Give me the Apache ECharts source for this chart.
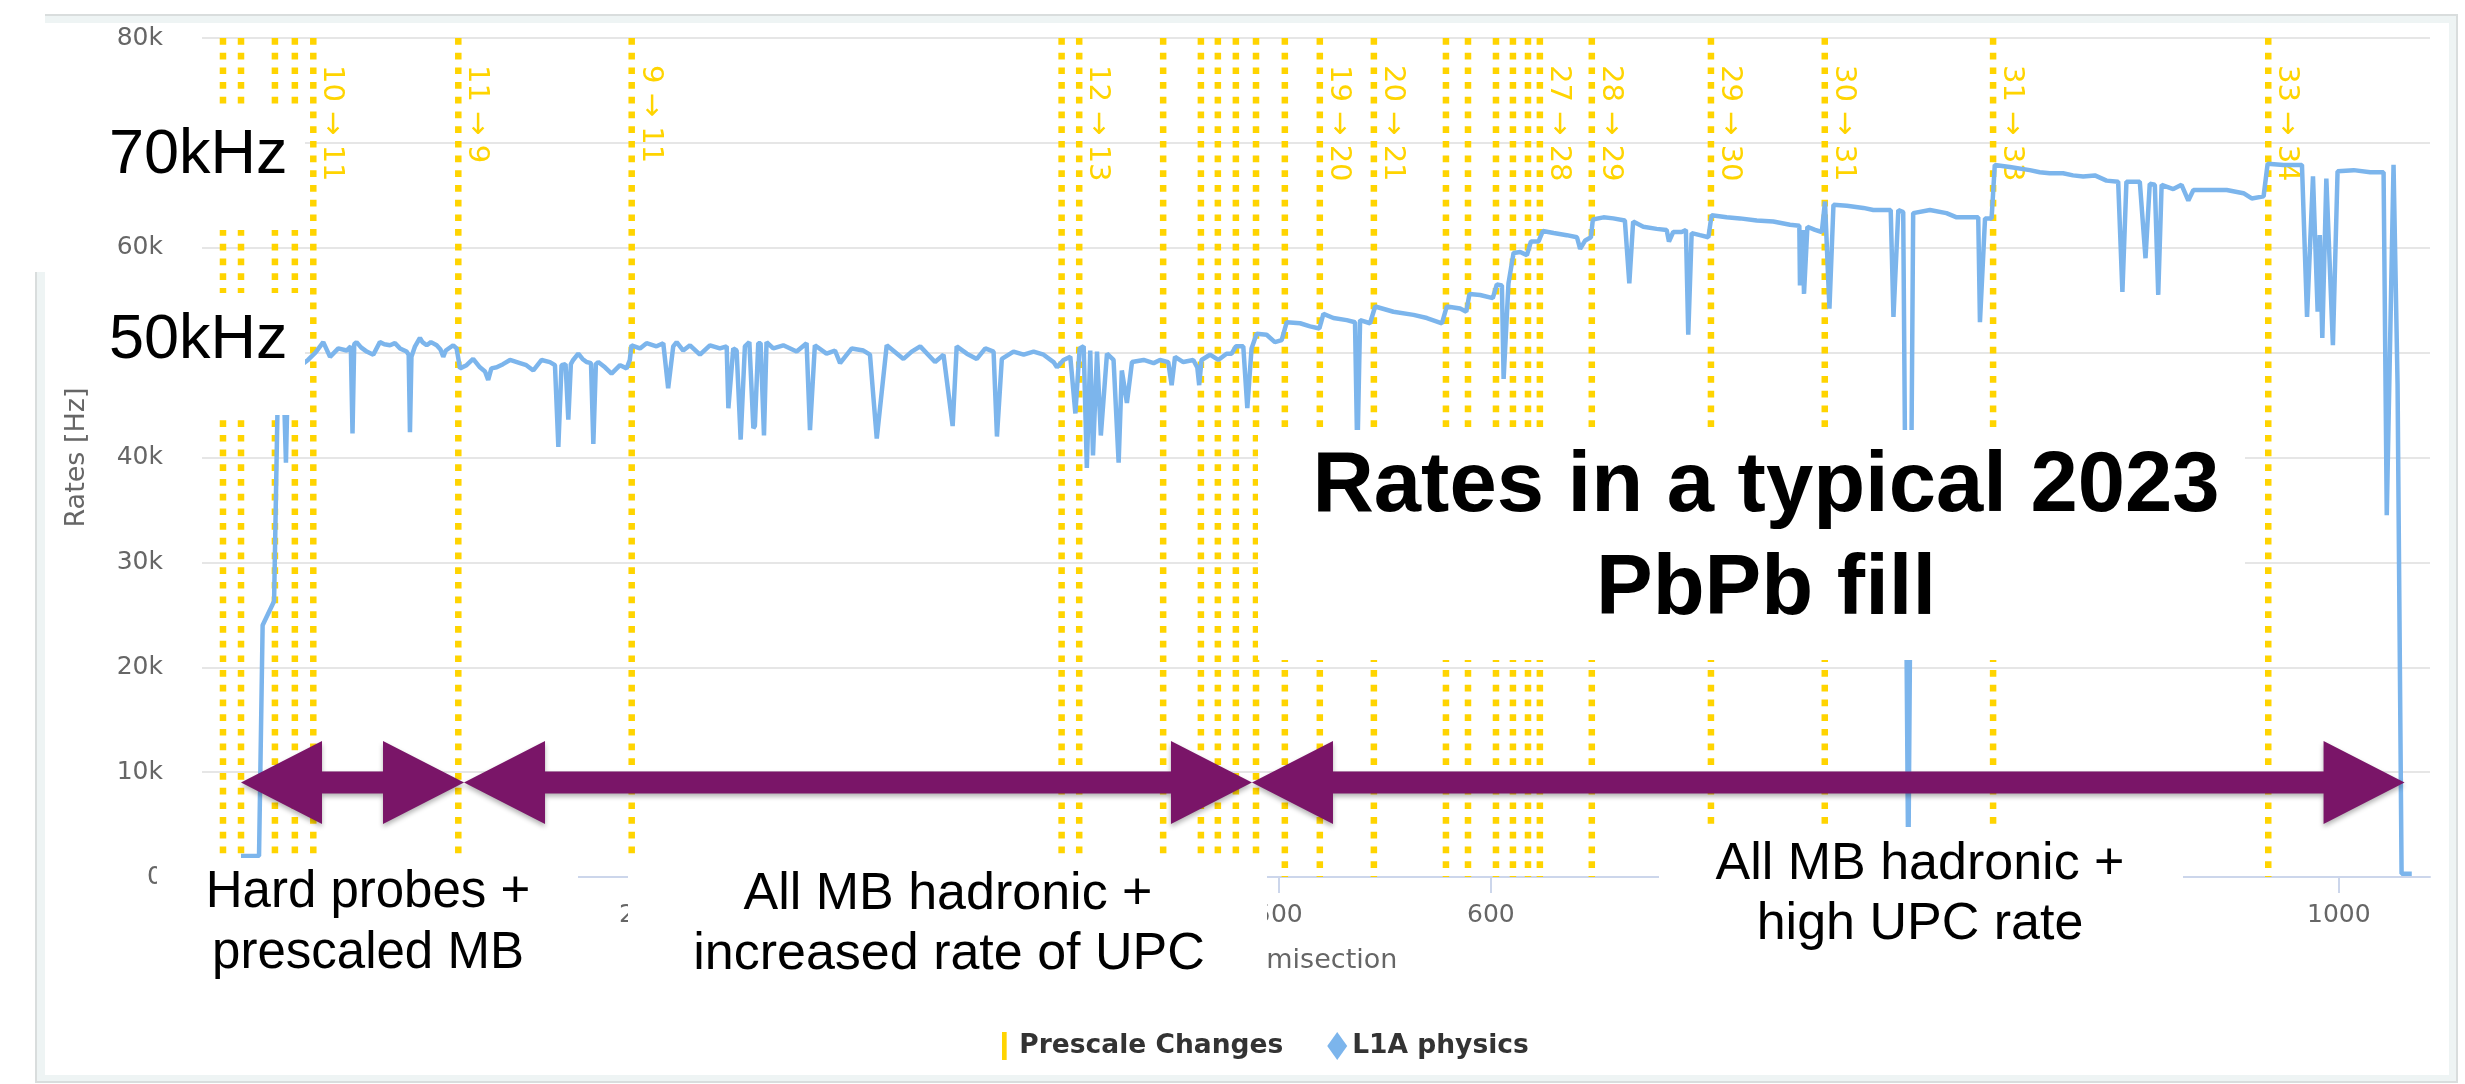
<!DOCTYPE html>
<html>
<head>
<meta charset="utf-8">
<script src="https://cdn.jsdelivr.net/npm/echarts@6/dist/echarts.min.js"></script>
<style>
  html, body { margin: 0; padding: 0; background: #ffffff; }
  #chart { width: 2465px; height: 1084px; }
</style>
</head>
<body>
<div id="chart"></div>
<script>
// Lumisection of each L1A sample
const lumi = [
  10.4, 18.9, 20.6, 26.0, 27.6, 29.0, 30.2, 31.6, 32.6, 36.0, 40.0,
  42.0, 45.5, 49.2, 52.4, 56.3, 60.2, 62.2, 63.0, 63.8, 64.9, 67.0, 69.7, 72.8, 75.9,
  78.0, 80.7, 83.0, 85.4, 88.5, 89.5, 90.1, 90.8, 92.5, 94.8, 96.0, 98.0, 100.0, 102.7,
  104.5, 105.8, 107.0, 110.5, 112.1,
  113.7, 116.8, 119.9, 123.1, 125.5, 127.0, 128.5, 131.0, 134.0, 137.3, 142.0, 145.0,
  148.3, 152.2, 156.1, 158.5, 160.1, 161.6, 163.5, 164.8, 166.0, 167.1, 169.5, 171.5,
  173.4, 175.5, 176.6, 177.8, 178.9, 182.1, 185.2, 189.2, 192.3, 193.8,
  194.6, 198.6, 201.7, 206.4, 209.6, 211.9, 214.3, 215.9, 219.0, 222.2, 226.9, 231.6,
  236.3, 239.5, 240.3, 242.6, 244.2, 246.1, 248.1, 250.2, 252.1, 252.8, 254.4, 255.5,
  257.1, 258.3, 261.5, 266.2, 272.5, 277.2, 278.8, 281.1, 286.6, 290.6, 293.0, 298.5,
  304.0, 307.1, 310.3, 315.0, 322.9, 326.8, 330.8, 337.8, 341.8, 346.1, 348.0, 352.8,
  357.5, 361.5, 365.4, 367.0, 369.3, 374.8, 379.6, 384.3, 389.0, 393.7, 395.3, 398.4,
  401.6, 404.0, 406.0, 407.9, 409.4, 411.0, 412.3, 414.2, 416.0, 418.9, 422.0, 424.4,
  425.9, 428.3, 430.7, 436.2, 440.9,
  443.9, 447.8, 449.4, 451.0, 454.9, 459.6, 461.5, 462.4, 463.5, 467.5, 471.4, 475.3,
  477.7, 479.7, 483.2, 485.1, 487.1, 489.5, 494.2, 498.1, 501.3, 503.7, 510.0, 514.7,
  519.1, 521.0, 525.7, 532.0, 535.9, 537.0, 538.3, 543.0, 545.4, 554.0, 563.5, 569.8,
  576.9, 579.2, 585.5, 588.4, 589.9, 594.9, 600.9, 602.8, 605.2, 606.0, 608.3, 610.7,
  613.8, 617.0, 618.9, 622.5, 624.5, 629.6, 635.8, 640.6, 642.1, 644.5, 647.2, 648.1,
  653.1, 657.7, 663.2, 665.3, 667.1, 671.9, 678.2, 682.9, 684.0, 686.0, 690.0, 692.0,
  693.1, 694.7, 698.6, 702.6, 704.1, 711.2, 717.5, 725.4, 733.2, 741.1, 745.5, 745.8,
  747.1, 747.7, 749.3, 752.9, 756.1, 757.6, 759.7, 761.6, 767.9, 775.7, 780.4, 785.1,
  788.6, 789.9, 792.2, 794.5, 796.9, 799.2, 807.1, 814.9, 819.7, 826.0, 829.9, 830.7,
  833.1, 836.2, 837.7, 844.8, 854.2, 858.9, 863.6, 869.9, 874.6, 879.4, 884.9, 890.4,
  895.9, 897.9, 899.8, 906.1, 908.8, 910.8, 913.2, 914.8, 916.4, 921.9, 925.8, 929.0,
  931.4, 939.2, 947.1, 955.0, 958.9, 964.5, 966.4, 973.9, 982.6, 985.0, 987.8, 990.0,
  991.0, 992.2, 994.1, 997.2, 999.4, 1007.0, 1014.8, 1021.1, 1022.6, 1025.8, 1027.7,
  1029.6, 1034.4
];

// L1A physics rate [Hz] at each of the lumisections above
const l1aRate = [
  2000, 2000, 24000, 26300, 44500, 49000, 49600, 39500, 48600, 49200, 49000,
  49300, 50000, 51000, 49600, 50400, 50200, 50600, 42300, 50800, 51000, 50500, 50100, 49800, 51000,
  50800, 50700, 50900, 50400, 50100, 49800, 42400, 49600, 50600, 51400, 51000, 50700, 51000, 50700,
  50300, 49600, 50200, 50700, 50400,
  48500, 48800, 49400, 48600, 48200, 47400, 48500, 48600, 48900, 49300, 49000, 48800,
  48300, 49300, 49100, 48800, 41000, 48800, 48900, 43600, 48900, 49300, 49900, 49400,
  49100, 49000, 41300, 48900, 49100, 48600, 48000, 48800, 48500, 49300,
  50700, 50400, 50900, 50600, 50900, 46600, 50600, 51000, 50200, 50700, 49800, 50700,
  50400, 50600, 44700, 50400, 50200, 41700, 50600, 51000, 42800, 43000, 50900, 50900,
  42100, 51000, 50400, 50700, 50100, 50900, 42600, 50700, 49900, 50200, 49000, 50400,
  50200, 49800, 41800, 50700, 49400, 50100, 50600, 49100, 49800, 43000, 50600, 49900,
  49400, 50400, 50100, 42000, 49400, 50100, 49800, 50100, 49800, 49100, 48600, 49300,
  49600, 44200, 50400, 50600, 39000, 50200, 40200, 50100, 42100, 49900, 49300, 39500,
  48300, 45200, 49100, 49300, 49000,
  49300, 49100, 46900, 49600, 49100, 49300, 48600, 46900, 49300, 49800, 49300, 49900,
  49900, 50600, 50600, 44700, 50400, 51800, 51700, 51000, 51200, 52900, 52800, 52500,
  52300, 53700, 53300, 53100, 52900, 40000, 53100, 52800, 54400, 53900, 53600, 53300,
  52800, 54400, 54200, 53900, 55600, 55500, 55200, 56500, 56400, 47500, 56600, 59500,
  59600, 59300, 60600, 60600, 61600, 61400, 61200, 61000, 59900, 60700, 61000, 62700,
  62900, 62800, 62600, 56600, 62500, 62000, 61800, 61700, 60600, 61500, 61500, 61700,
  51700, 61400, 61200, 61000, 63100, 62900, 62800, 62600, 62500, 62200, 62100, 56400,
  61700, 55600, 62000, 61700, 61500, 64400, 54200, 64100, 64000, 63800, 63600, 63600,
  63600, 53400, 63600, 63400, 0, 63300, 63600, 63300, 62900, 62900, 62900, 52900,
  62800, 62800, 67900, 67700, 67400, 67200, 67100, 67100, 66900, 66800, 66900, 66400,
  66300, 55800, 66300, 66300, 59000, 66100, 66000, 55500, 66000, 65600, 66000, 64500,
  65500, 65500, 65500, 65200, 64700, 64900, 68000, 67900, 67900, 53400, 66800, 53900,
  61200, 51400, 66600, 50700, 67300, 67400, 67200, 67200, 34500, 67900, 47000,
  300, 300
];

// Lumisections at which the prescale column was changed, and the label shown for each
const prescaleLumi = [
  1.9, 10.4, 26.4, 35.8, 44.5, 112.9, 194.7,
  397.5, 405.8, 445.4, 463.2, 471.2, 479.7, 489.2, 502.8,
  519.3, 544.8, 578.8, 589.2, 602.4, 610.4, 617.5, 623.1, 647.6,
  703.8, 757.5, 836.9, 966.7
];
const prescaleLabel = [
  '', '', '', '', '10 \u2192 11', '11 \u2192 9', '9 \u2192 11',
  '', '12 \u2192 13', '', '', '', '', '', '',
  '19 \u2192 20', '20 \u2192 21', '', '', '', '', '', '27 \u2192 28', '28 \u2192 29',
  '29 \u2192 30', '30 \u2192 31', '31 \u2192 33', '33 \u2192 34'
];

// Running phases of the fill: first and last lumisection of each
const phaseStart = [10.4, 115.6, 487.3];
const phaseEnd = [115.6, 487.3, 1031.0];
const phaseArrowRate = 9000;

// Axis ticks
const xTicks = [0, 100, 200, 300, 400, 500, 600, 700, 800, 900, 1000];
const yMax = 80000;
const yStep = 10000;

const l1aData = lumi.map((l, i) => [l, l1aRate[i]]);
const prescaleData = prescaleLumi.map(l => [l]);
const phaseData = phaseStart.map((s, i) => [s, phaseEnd[i], phaseArrowRate]);

const GOLD = '#ffd400';
const BLUE = '#7cb5ec';
const PURPLE = '#7a1568';
const AXIS_FONT = '"DejaVu Sans", "Open Sans", sans-serif';
const SLIDE_FONT = '"Liberation Sans", Arial, Helvetica, sans-serif';

const chart = echarts.init(document.getElementById('chart'), null, { renderer: 'canvas' });

function slideText(text, x, y, size, align) {
  return {
    type: 'text',
    z: 110,
    silent: true,
    style: {
      text: text, x: x, y: y,
      fontSize: size, fontFamily: SLIDE_FONT, fontWeight: 'normal',
      fill: '#000000', align: align || 'center', verticalAlign: 'middle'
    }
  };
}

function whiteBox(x, y, w, h) {
  return { type: 'rect', z: 100, silent: true, shape: { x: x, y: y, width: w, height: h },
           style: { fill: '#ffffff' } };
}

const option = {
  animation: false,
  backgroundColor: '#ffffff',
  grid: { left: 202, right: 35, top: 38, bottom: 207, containLabel: false },
  legend: {
    left: 997, top: 1027,
    itemWidth: 20, itemHeight: 28, itemGap: 44,
    selectedMode: false,
    textStyle: { fontSize: 26.5, fontWeight: 'bold', color: '#333333', fontFamily: AXIS_FONT },
    data: [
      { name: 'Prescale Changes', icon: 'path://M0,0 L2,0 L2,12 L0,12 Z' },
      { name: 'L1A physics', icon: 'diamond' }
    ]
  },
  xAxis: {
    type: 'value',
    min: -8, max: 1043,
    name: 'Lumisection',
    nameLocation: 'middle',
    nameGap: 70,
    nameTextStyle: { color: '#666666', fontSize: 27, fontFamily: AXIS_FONT },
    axisLine: { show: true, lineStyle: { color: '#ccd6eb', width: 2 } },
    axisTick: { show: true, customValues: xTicks, length: 16, lineStyle: { color: '#ccd6eb', width: 2 } },
    axisLabel: {
      customValues: xTicks, color: '#666666', fontSize: 25, fontFamily: AXIS_FONT, margin: 26,
      formatter: v => String(v)
    },
    splitLine: { show: false }
  },
  yAxis: {
    type: 'value',
    min: 0, max: yMax, interval: yStep,
    name: 'Rates [Hz]',
    nameLocation: 'middle',
    nameGap: 112,
    nameRotate: 90,
    nameTextStyle: { color: '#666666', fontSize: 27, fontFamily: AXIS_FONT },
    axisLine: { show: false },
    axisTick: { show: false },
    axisLabel: {
      color: '#666666', fontSize: 25, fontFamily: AXIS_FONT, margin: 39,
      padding: [8, 0, 0, 0],
      formatter: v => (v === 0 ? '0' : (v / 1000) + 'k')
    },
    splitLine: { show: true, lineStyle: { color: '#e6e6e6', width: 2 } }
  },
  series: [
    {
      name: 'Prescale Changes',
      type: 'custom',
      z: 2,
      clip: false,
      silent: true,
      itemStyle: { color: GOLD },
      encode: { x: 0 },
      data: prescaleData,
      renderItem: function (params, api) {
        const x = api.value(0);
        const top = api.coord([x, yMax]);
        const bot = api.coord([x, 0]);
        const children = [{
          type: 'line',
          shape: { x1: top[0], y1: top[1], x2: bot[0], y2: bot[1] },
          style: { stroke: GOLD, lineWidth: 6.5, lineDash: [6.7, 8], lineCap: 'butt' }
        }];
        const txt = prescaleLabel[params.dataIndex];
        if (txt) {
          children.push({
            type: 'text',
            x: top[0] + 4, y: top[1] + 27,
            rotation: -Math.PI / 2,
            style: {
              text: txt, fill: GOLD,
              fontSize: 29, fontFamily: AXIS_FONT,
              align: 'left', verticalAlign: 'bottom'
            }
          });
        }
        return { type: 'group', children: children };
      }
    },
    {
      name: 'L1A physics',
      type: 'line',
      z: 3,
      data: l1aData,
      showSymbol: false,
      symbol: 'diamond',
      lineStyle: { color: BLUE, width: 4.5 },
      itemStyle: { color: BLUE },
      emphasis: { disabled: true }
    },
    {
      name: 'Phases',
      type: 'custom',
      z: 20,
      clip: false,
      silent: true,
      encode: { x: [0, 1], y: 2 },
      data: phaseData,
      renderItem: function (params, api) {
        const a = api.coord([api.value(0), api.value(2)]);
        const b = api.coord([api.value(1), api.value(2)]);
        const cy = a[1];
        const H = 81, W = 41.5, T = 11;
        return {
          type: 'polygon',
          shape: { points: [
            [a[0], cy], [a[0] + H, cy - W], [a[0] + H, cy - T],
            [b[0] - H, cy - T], [b[0] - H, cy - W], [b[0], cy],
            [b[0] - H, cy + W], [b[0] - H, cy + T], [a[0] + H, cy + T], [a[0] + H, cy + W]
          ] },
          style: {
            fill: PURPLE,
            shadowBlur: 5, shadowOffsetY: 3, shadowColor: 'rgba(0,0,0,0.3)'
          }
        };
      }
    }
  ],
  graphic: {
    elements: [
      // chart container frame
      { type: 'rect', z: -10, silent: true, shape: { x: 36, y: 15, width: 2421, height: 1067 },
        style: { fill: '#eef4f4', stroke: '#d9dddd', lineWidth: 2 } },
      { type: 'rect', z: -9, silent: true, shape: { x: 45, y: 23, width: 2404, height: 1052 },
        style: { fill: '#ffffff' } },
      { type: 'rect', z: -8, silent: true, shape: { x: 0, y: 0, width: 45, height: 272 },
        style: { fill: '#ffffff' } },

      // rate markers on the y axis
      whiteBox(100, 105, 205, 125),
      slideText('70kHz', 109, 156, 63, 'left'),
      whiteBox(100, 293, 205, 122),
      slideText('50kHz', 109, 341, 63, 'left'),

      // headline
      whiteBox(1258, 430, 987, 230),
      { type: 'text', z: 110, silent: true, style: { text: 'Rates in a typical 2023', x: 1766, y: 488, fontSize: 85, fontWeight: 'bold',
        fontFamily: SLIDE_FONT, fill: '#000', align: 'center', verticalAlign: 'middle' } },
      { type: 'text', z: 110, silent: true, style: { text: 'PbPb fill', x: 1766, y: 591, fontSize: 85, fontWeight: 'bold',
        fontFamily: SLIDE_FONT, fill: '#000', align: 'center', verticalAlign: 'middle' } },

      // phase captions
      whiteBox(157, 858, 421, 150),
      slideText('Hard probes +', 368, 893, 51),
      slideText('prescaled MB', 368, 954, 51),
      whiteBox(628, 856, 639, 150),
      slideText('All MB hadronic +', 948, 895, 52),
      slideText('increased rate of UPC', 949, 955, 52),
      whiteBox(1659, 827, 524, 170),
      slideText('All MB hadronic +', 1920, 865, 52),
      slideText('high UPC rate', 1920, 925, 52)
    ]
  }
};

chart.setOption(option);
</script>
</body>
</html>
